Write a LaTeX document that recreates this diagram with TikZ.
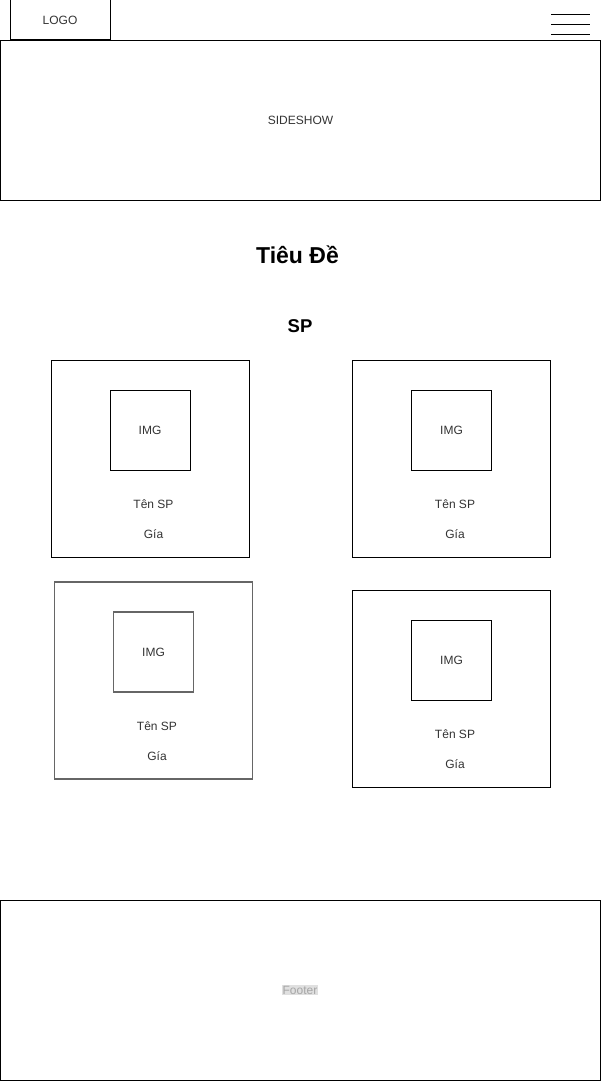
\documentclass[tikz,border=0pt]{standalone}
\usepackage{fontspec}
\setmainfont{Liberation Sans}
\usetikzlibrary{positioning}

\tikzset{
    box/.style={draw, inner sep=0pt, line width=1pt},
    label/.style={text=black!80, font=\fontsize{12}{14}\selectfont},
}

\begin{document}
\begin{tikzpicture}[x=1pt, y=-1pt]
\useasboundingbox (0,0) rectangle (601,1081);
% header
\node[box, minimum width=100pt, minimum height=40pt, label] (logo) at (60,20) {LOGO};
\foreach \i/\y in {1/15, 2/25, 3/35} {
    \coordinate (m\i a) at (551,\y);
    \coordinate (m\i b) at (590,\y);
    \draw[line width=1pt] (m\i a) -- (m\i b);
}
\node[box, minimum width=600pt, minimum height=160pt, label] (slide) at (300.5,120.5) {SIDESHOW};
% titles
\node[font=\bfseries\fontsize{23}{27}\selectfont] (title) at (297.5,255) {Tiêu Đề};
\node[font=\bfseries\fontsize{18.5}{22}\selectfont] (sp) at (300,326) {SP};
% product cards
\foreach \n/\x/\y/\c/\w in {
    1/150/458.5/black/1pt,
    2/451.5/458.5/black/1pt,
    3/153.5/680.5/black!60/1.5pt,
    4/451.5/688.5/black/1pt} {
    \node[box, draw=\c, line width=\w, minimum width=198pt, minimum height=197pt] (card\n) at (\x,\y) {};
    \node[box, draw=\c, line width=\w, minimum size=80pt, label] (img\n) at (\x,\y-28.5) {IMG};
    \node[label] (name\n) at (\x+3.5,\y+46) {Tên SP};
    \node[label] (price\n) at (\x+3.5,\y+76) {Gía};
}
% footer
\node[box, minimum width=600pt, minimum height=180pt] (footer) at (300.5,990.5) {};
\node[fill=black!12, text=black!35, inner sep=1pt, font=\fontsize{12}{14}\selectfont] (ftext) at (300,990) {Footer};
\end{tikzpicture}
\end{document}
